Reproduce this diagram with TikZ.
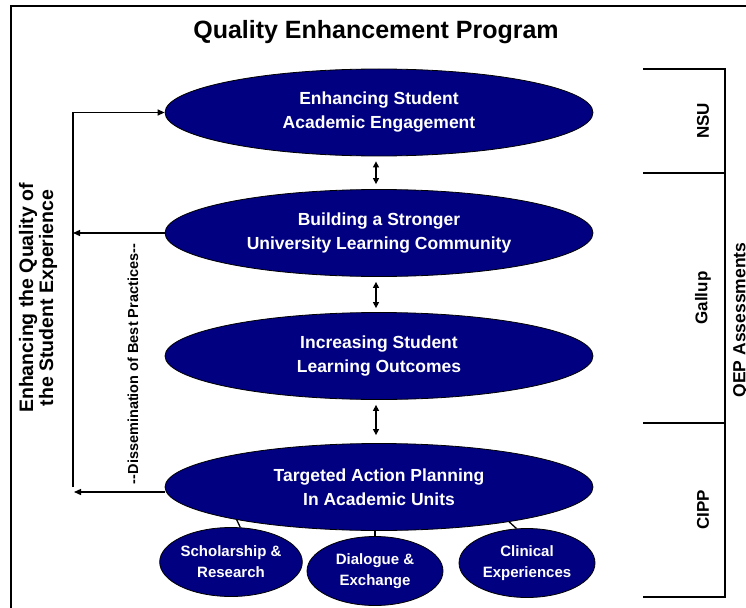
\documentclass[tikz,border=0pt]{standalone}
\usepackage{fontspec}
\setmainfont{Liberation Sans}
\usetikzlibrary{shapes.geometric,arrows.meta}

\definecolor{qepnavy}{RGB}{0,0,128}

\tikzset{
  goal/.style={ellipse, draw=black, line width=0.8pt, fill=qepnavy, text=white,
    minimum width=428pt, minimum height=87pt, inner sep=0pt, align=center,
    font=\bfseries\fontsize{17.5}{24}\selectfont},
  unit/.style={ellipse, draw=black, line width=0.8pt, fill=qepnavy, text=white,
    minimum width=136pt, minimum height=69pt, inner sep=0pt, align=center,
    font=\bfseries\fontsize{15}{21}\selectfont},
  link/.style={line width=1.3pt},
  oneway/.style={line width=1.3pt, -{Triangle[length=7pt,width=6pt]}},
  twoway/.style={line width=1.3pt, {Triangle[length=6pt,width=6pt]}-{Triangle[length=6pt,width=6pt]}},
  rule/.style={line width=1.2pt},
  tag/.style={rotate=90, font=\bfseries\fontsize{17}{20}\selectfont, inner sep=0pt}
}

\begin{document}
\begin{tikzpicture}[x=1pt, y=-1pt]
  \useasboundingbox (0,0) rectangle (746,607);
  \clip (0,0) rectangle (746,607);

  % outer frame (runs past the right and bottom edges)
  \draw[line width=2pt] (11,6) rectangle (770,630);

  % title
  \node (title) at (376,32) {\bfseries\fontsize{25}{29}\selectfont Quality Enhancement Program};

  % program goals
  \node[goal] (e1) at (379,112.5) {Enhancing Student\\Academic Engagement};
  \node[goal] (e2) at (379,233) {Building a Stronger\\University Learning Community};
  \node[goal] (e3) at (379,356) {Increasing Student\\Learning Outcomes};
  \node[goal] (e4) at (379,487) {Targeted Action Planning\\In Academic Units};

  % academic unit activities
  \node[unit] (s) at (231,562) {Scholarship \&\\Research};
  \node[unit] (d) at (375,571) {Dialogue \&\\Exchange};
  \node[unit] (c) at (527,563) {Clinical\\Experiences};

  % links between goals
  \draw[twoway, shorten <=5pt, shorten >=5pt] ([xshift=-3pt]e1.south) -- ([xshift=-3pt]e2.north);
  \draw[twoway, shorten <=5pt, shorten >=4pt] ([xshift=-3pt]e2.south) -- ([xshift=-3pt]e3.north);
  \draw[twoway, shorten <=5pt, shorten >=8pt] ([xshift=-3pt]e3.south) -- ([xshift=-3pt]e4.north);

  % links to unit activities
  \draw[link] (e4.193) -- (s.75);
  \draw[link] (d.north) -- (d.north |- e4.south);
  \draw[link] (e4.345) -- (c.107);

  % feedback loop on the left
  \coordinate (ftop) at (73,112.5);
  \coordinate (fmid) at (73,233);
  \coordinate (fbot) at (74,492);
  \coordinate (fend) at (73,487);
  \draw[link] (fend) -- (ftop);
  \draw[oneway] (ftop) -- (e1.west);
  \draw[oneway] (e2.west) -- (fmid);
  \draw[oneway] (e4.west |- fbot) -- (fbot);

  \node[tag, align=center, font=\bfseries\fontsize{19.5}{20}\selectfont] (quality) at (38,298)
    {Enhancing the Quality of\\the Student Experience};
  \node[tag, font=\bfseries\fontsize{14.5}{17}\selectfont] (dissem) at (133,364)
    {-{}-Dissemination of Best Practices-{}-};

  % assessment bracket on the right
  \coordinate (b0) at (725,69);
  \coordinate (b1) at (725,173);
  \coordinate (b2) at (725,423);
  \coordinate (b3) at (725,597);
  \draw[rule] (643,69) -- (b0) -- (b3) -- (643,597);
  \draw[rule] (643,173) -- (b1);
  \draw[rule] (643,423) -- (b2);

  \node[tag] (nsu) at (703,121) {NSU};
  \node[tag] (gallup) at (703,298) {Gallup};
  \node[tag] (cipp) at (703,510) {CIPP};
  \node[tag, anchor=north, font=\bfseries\fontsize{17.5}{20}\selectfont] (qep) at (733,320) {QEP Assessments};
\end{tikzpicture}
\end{document}
